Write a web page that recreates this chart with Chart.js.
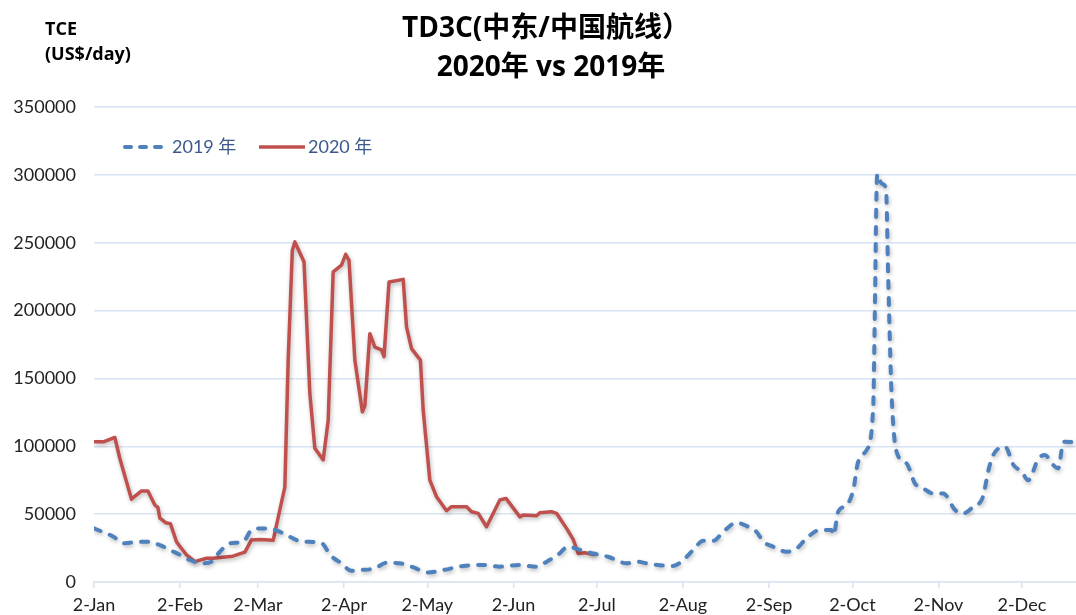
<!DOCTYPE html>
<html>
<head>
<meta charset="utf-8">
<script src="https://cdn.jsdelivr.net/npm/chart.js@4.4.1/dist/chart.umd.min.js"></script>
<style>
html,body{margin:0;padding:0;background:#fff;}
#wrap{width:1076px;height:615px;position:relative;}
</style>
</head>
<body>
<div id="wrap"><canvas id="c" width="1076" height="615"></canvas></div>
<script>
// ---- data (x = day of year, Jan 1 = 0) ----
const xTickDays   = [1, 32, 60, 91, 121, 152, 182, 213, 244, 274, 305, 335];
const xTickLabels = ['2-Jan','2-Feb','2-Mar','2-Apr','2-May','2-Jun','2-Jul','2-Aug','2-Sep','2-Oct','2-Nov','2-Dec'];
const yTickValues = [0, 50000, 100000, 150000, 200000, 250000, 300000, 350000];

const seriesNames = ['2019 年', '2020 年'];

const days2019 = [1,4,8,11.5,14,20,24.7,28.3,32,35.5,40,43.3,46.3,50,54.7,57.7,60.7,65.5,70.3,74.5,77,83,86,90,93.7,96.7,102,106.3,111,116,121,126.7,134,142.3,147,154.3,160.3,164,168,171.7,176,180.7,186,192.7,196.3,201,209.5,212.5,216.7,220.3,224,227.5,232.3,236,239.5,242,245.5,250.3,254,257.5,262.3,266.5,267.2,268.9,272,274.3,276.1,279.1,281.5,282.1,282.7,283,284.5,286.1,286.9,288.1,289.9,293.5,296.5,299.5,303,306.7,311,314,317.5,321,323,324.7,329,332,335,337.3,341,343.3,346.3,348.1,350,354.5];
const values2019 = [39500,37000,33400,28500,29000,29700,27200,23600,20000,16200,13800,15000,22300,28500,29700,38300,39500,38800,34600,30400,29700,28500,20000,13800,8300,8800,10000,14200,13800,10800,7000,8800,11800,12500,11300,12500,11300,15000,20000,26000,23600,21000,18600,13800,15000,13300,11800,15000,23600,30400,30400,37000,43700,41200,37000,29700,26000,22300,24800,32200,38300,38300,34600,51800,56700,67700,88600,97200,129000,200000,288000,300500,293600,290000,224800,139000,96000,87400,72700,69000,65300,65300,53000,50600,55500,62800,82500,93500,99600,86200,81200,75000,91000,93500,86200,83700,103300,103000];

const days2020 = [1,4.4,8.5,10.3,14.5,15,18,20.4,22.9,24,24.7,26.8,28.5,30.7,32,34.3,37.3,41.5,43.8,51,55.3,57.7,60.7,65.5,69.7,70.9,72.4,73.3,76.6,78.7,80.5,83.5,85.3,87.1,90.1,91.6,92.8,94.9,97.6,98.5,100.3,102.1,104.5,105.4,107.2,112.3,113.5,115.3,118.5,119.5,121.9,124.3,127.9,129.7,135.1,136.9,139.3,142.3,147.1,149.3,154.3,155.5,160.3,161.5,165.7,167.5,171.1,173.5,175.3,177.7,181.3];
const values2020 = [103300,103300,106500,91000,61000,62000,67000,67000,56700,55000,47000,43700,43000,29700,26000,20000,15000,17500,17500,19000,22000,31000,31400,30700,70000,163500,244500,250600,236000,139000,98500,90000,119000,228500,233400,241500,237000,163500,125400,130000,183000,173000,171000,166000,221000,223000,188000,172000,163500,126700,75000,62800,52500,55500,55500,51800,50600,40700,60400,61600,48000,49300,48800,51000,51800,50600,39500,31400,21000,21600,20000];

const titleLines = ['TD3C(中东/中国航线）', '2020年 vs 2019年'];
const unitLines = ['TCE', '(US$/day)'];

// ---- styles ----
const BLUE = '#4f81bd';
const RED = '#c0504d';
const GRID = '#d9e4f3';
const TICKFONT = {family: 'Lato, "Noto Sans CJK SC", sans-serif', size: 18};

function pts(xs, ys){ return xs.map((x,i)=>({x:x, y:ys[i]})); }

const shadowPlugin = {
  id: 'lineShadow',
  beforeDatasetsDraw(chart){
    const ctx = chart.ctx;
    ctx.save();
    ctx.shadowColor = 'rgba(0,0,0,0.28)';
    ctx.shadowBlur = 4;
    ctx.shadowOffsetX = 1;
    ctx.shadowOffsetY = 2;
  },
  afterDatasetsDraw(chart){ chart.ctx.restore(); }
};

const textPlugin = {
  id: 'extraText',
  afterDraw(chart){
    const ctx = chart.ctx;
    ctx.save();
    // title
    ctx.fillStyle = '#000';
    ctx.textAlign = 'center';
    ctx.textBaseline = 'middle';
    ctx.font = 'bold 28px "Open Sans", "Noto Sans CJK SC", sans-serif';
    ctx.fillText(titleLines[0], 546, 29);
    ctx.fillText(titleLines[1], 551, 68);
    // unit label
    ctx.textAlign = 'left';
    ctx.font = 'bold 18px "Open Sans", sans-serif';
    ctx.fillText(unitLines[0], 45, 30);
    ctx.fillText(unitLines[1], 45, 55);
    // legend
    const ly = 147;
    ctx.lineWidth = 4;
    ctx.lineCap = 'round';
    ctx.strokeStyle = BLUE;
    ctx.setLineDash([6, 9]);
    ctx.beginPath(); ctx.moveTo(125, ly); ctx.lineTo(166, ly); ctx.stroke();
    ctx.setLineDash([]);
    ctx.lineCap = 'butt';
    ctx.lineWidth = 3.5;
    ctx.strokeStyle = RED;
    ctx.beginPath(); ctx.moveTo(259, ly); ctx.lineTo(305, ly); ctx.stroke();
    ctx.fillStyle = '#3b5a8c';
    ctx.font = '18px Lato, "Noto Sans CJK SC", sans-serif';
    ctx.fillText(seriesNames[0], 172, ly);
    ctx.fillText(seriesNames[1], 308, ly);
    ctx.restore();
  }
};

new Chart(document.getElementById('c'), {
  type: 'line',
  data: {
    datasets: [
      {
        label: seriesNames[0],
        data: pts(days2019, values2019),
        borderColor: BLUE,
        borderWidth: 4,
        borderDash: [7, 10],
        borderCapStyle: 'round',
        borderJoinStyle: 'round',
        cubicInterpolationMode: 'monotone',
        pointRadius: 0,
        fill: false
      },
      {
        label: seriesNames[1],
        data: pts(days2020, values2020),
        borderColor: RED,
        borderWidth: 3.5,
        borderJoinStyle: 'round',
        tension: 0,
        pointRadius: 0,
        fill: false
      }
    ]
  },
  options: {
    responsive: false,
    animation: false,
    devicePixelRatio: 1,
    layout: {padding: {top: 107, left: 0, right: 0, bottom: 0}},
    plugins: {legend: {display: false}, title: {display: false}, tooltip: {enabled: false}},
    scales: {
      x: {
        type: 'linear',
        min: 1,
        max: 354.5,
        afterBuildTicks(scale){ scale.ticks = xTickDays.map(v => ({value: v})); },
        afterFit(scale){ scale.height = 33; },
        ticks: {
          autoSkip: false, maxRotation: 0, minRotation: 0,
          padding: 6,
          color: '#222',
          font: TICKFONT,
          callback: (v, i) => xTickLabels[i]
        },
        grid: {drawOnChartArea: false, drawTicks: true, tickLength: 6, color: GRID, lineWidth: 1.5},
        border: {display: true, color: GRID, width: 1.5}
      },
      y: {
        min: 0,
        max: 350000,
        afterBuildTicks(scale){ scale.ticks = yTickValues.map(v => ({value: v})); },
        afterFit(scale){ scale.width = 94; },
        ticks: {
          padding: 18,
          color: '#222',
          font: TICKFONT,
          callback: v => String(v)
        },
        grid: {color: GRID, lineWidth: 1.5, drawTicks: false},
        border: {display: false}
      }
    }
  },
  plugins: [shadowPlugin, textPlugin]
});
</script>
</body>
</html>
